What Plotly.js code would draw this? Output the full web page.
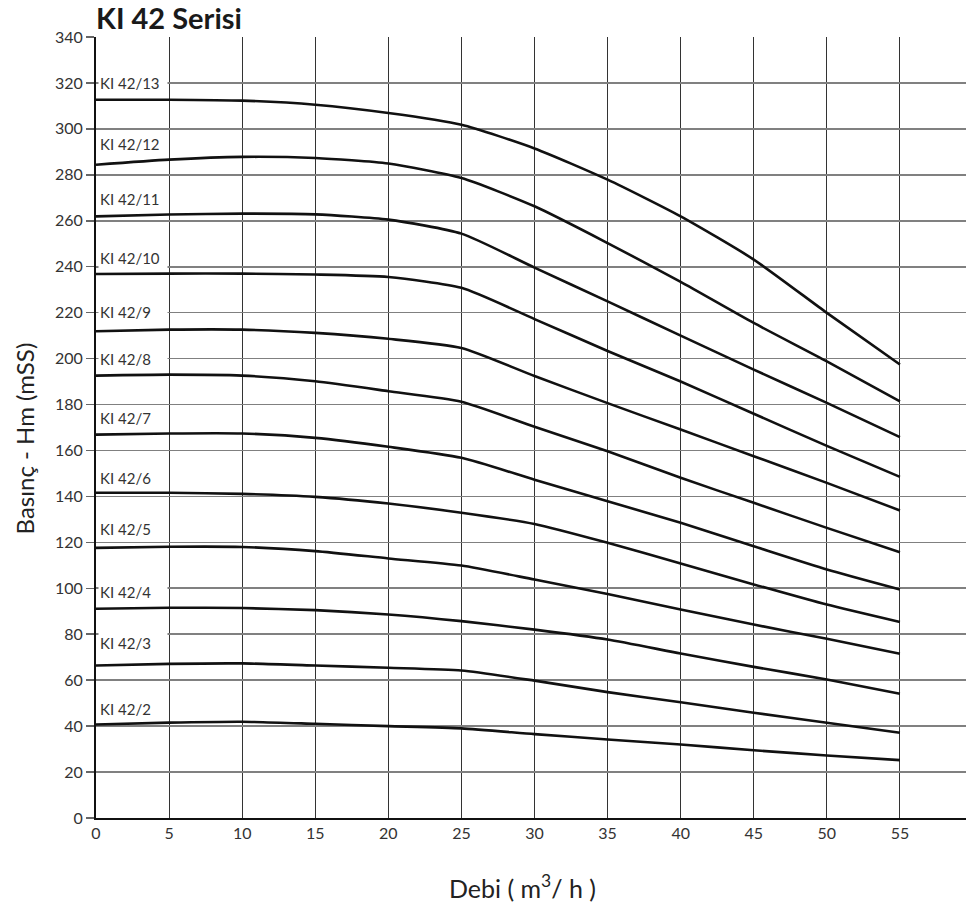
<!DOCTYPE html>
<html>
<head>
<meta charset="utf-8">
<script src="https://cdn.plot.ly/plotly-3.0.1.min.js"></script>
<style>
  html, body { margin: 0; padding: 0; background: #fff; }
  #chart { width: 966px; height: 909px; }
</style>
</head>
<body>
<div id="chart"></div>
<script>
// Flow (m3/h)
var Q = [0, 5, 10, 15, 20, 25, 30, 35, 40, 45, 50, 55];

// Head (mSS) per model
var H13 = [312.7, 312.7, 312.3, 310.5, 306.9, 301.8, 291.5, 277.9, 261.9, 243.1, 219.9, 197.4];
var H12 = [284.4, 286.6, 287.8, 287.3, 284.9, 278.6, 266.3, 250.3, 233.4, 215.5, 198.8, 181.4];
var H11 = [261.9, 262.7, 263.1, 262.8, 260.5, 254.4, 239.6, 224.9, 210.0, 195.2, 180.7, 165.8];
var H10 = [236.8, 237.0, 237.0, 236.6, 235.5, 230.8, 217.2, 203.3, 190.0, 176.0, 162.0, 148.5];
var H9  = [211.9, 212.6, 212.6, 211.2, 208.6, 204.6, 192.4, 180.6, 169.1, 157.5, 145.9, 133.9];
var H8  = [192.6, 193.0, 192.6, 190.1, 185.8, 181.2, 170.3, 159.7, 148.1, 137.2, 126.3, 115.7];
var H7  = [166.9, 167.4, 167.4, 165.5, 161.6, 156.8, 147.3, 137.9, 128.5, 118.3, 108.2, 99.5];
var H6  = [141.6, 141.6, 141.1, 139.8, 136.9, 132.9, 128.0, 119.8, 110.8, 101.7, 92.9, 85.3];
var H5  = [117.6, 118.1, 118.0, 116.2, 113.0, 109.9, 103.8, 97.5, 90.8, 84.2, 78.0, 71.5];
var H4  = [91.1, 91.5, 91.4, 90.5, 88.6, 85.7, 82.0, 77.7, 71.6, 65.8, 60.3, 54.1];
var H3  = [66.4, 67.1, 67.3, 66.4, 65.4, 64.2, 59.8, 54.8, 50.4, 45.8, 41.5, 37.1];
var H2  = [40.7, 41.5, 41.9, 41.0, 40.0, 39.0, 36.5, 34.2, 32.0, 29.5, 27.2, 25.2];

var MODELS = ["KI 42/13", "KI 42/12", "KI 42/11", "KI 42/10", "KI 42/9", "KI 42/8",
              "KI 42/7", "KI 42/6", "KI 42/5", "KI 42/4", "KI 42/3", "KI 42/2"];
var SERIES = [H13, H12, H11, H10, H9, H8, H7, H6, H5, H4, H3, H2];
// label anchor heights (mSS)
var LABEL_Y = [320.0, 293.6, 269.5, 243.8, 220.3, 199.9, 174.2, 148.1, 125.9, 98.3, 76.0, 47.5];

var Y_TICKS = [0, 20, 40, 60, 80, 100, 120, 140, 160, 180, 200, 220, 240, 260, 280, 300, 320, 340];
var X_TICKS = [0, 5, 10, 15, 20, 25, 30, 35, 40, 45, 50, 55];

var FONT = "Lato, 'Open Sans', sans-serif";

var traces = SERIES.map(function (h, i) {
  return {
    x: Q, y: h, name: MODELS[i], type: "scatter", mode: "lines",
    line: { color: "#111111", width: 2.6, shape: "spline", smoothing: 0.6 },
    hoverinfo: "x+y+name", cliponaxis: false
  };
});

var annotations = MODELS.map(function (m, i) {
  return {
    x: 0, xref: "x", y: LABEL_Y[i], yref: "y",
    text: m, showarrow: false, xanchor: "left", yanchor: "middle",
    align: "left", width: 66, xshift: 2, bgcolor: "#ffffff", borderpad: 1,
    font: { family: FONT, size: 15, color: "#333333" }
  };
});

annotations.push({
  xref: "paper", yref: "paper", x: -0.0828, y: 0.486,
  text: "Basınç - Hm (mSS)", textangle: -90, showarrow: false,
  xanchor: "center", yanchor: "middle",
  font: { family: FONT, size: 24, color: "#222222" }
});
annotations.push({
  xref: "paper", yref: "paper", x: 0.4897, y: -0.0876,
  text: "Debi ( m<sup>3</sup>/ h )", showarrow: false,
  xanchor: "center", yanchor: "middle",
  font: { family: FONT, size: 25, color: "#222222" }
});

var layout = {
  width: 966, height: 909,
  margin: { l: 96, r: 0, t: 37, b: 91, pad: 0 },
  paper_bgcolor: "#ffffff", plot_bgcolor: "#ffffff",
  showlegend: false,
  title: {
    text: "<b>KI 42 Serisi</b>",
    xref: "paper", x: 0, xanchor: "left",
    yref: "container", y: 0.979, yanchor: "middle",
    font: { family: FONT, size: 29, color: "#1a1a1a", weight: 900 }
  },
  xaxis: {
    range: [0, 59.52], tickmode: "array", tickvals: X_TICKS,
    ticks: "", showgrid: true, gridcolor: "#333333", gridwidth: 1,
    showline: true, linecolor: "#111111", linewidth: 1.5,
    zeroline: false, ticklabelstandoff: 0,
    tickfont: { family: FONT, size: 16, color: "#333333" },
    fixedrange: true
  },
  yaxis: {
    range: [0, 340], tickmode: "array", tickvals: Y_TICKS,
    ticks: "outside", ticklen: 8, tickwidth: 1.5, tickcolor: "#666666",
    showgrid: true, gridcolor: "#808080", gridwidth: 1.6,
    showline: true, linecolor: "#111111", linewidth: 2,
    zeroline: false,
    tickfont: { family: FONT, size: 16, color: "#333333" },
    fixedrange: true
  },
  annotations: annotations
};

Plotly.newPlot("chart", traces, layout, { displayModeBar: false, staticPlot: true });
</script>
</body>
</html>
